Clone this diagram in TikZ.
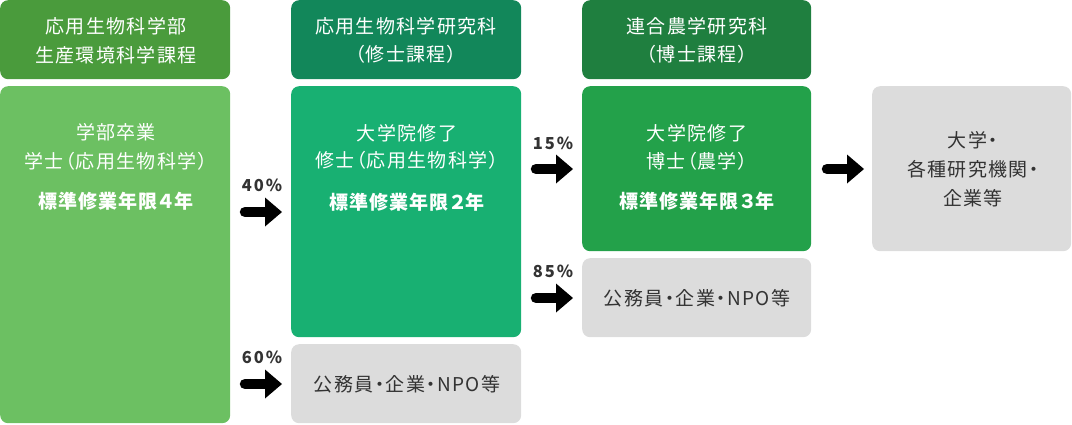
\documentclass[tikz,border=0pt]{standalone}
\usepackage{fontspec}
\setmainfont{Noto Sans CJK JP}[RawFeature=+palt, LetterSpace=7]
\usetikzlibrary{arrows.meta}
\definecolor{hdA}{HTML}{4A9B3C}
\definecolor{bdA}{HTML}{6CC062}
\definecolor{hdB}{HTML}{12875A}
\definecolor{bdB}{HTML}{18B072}
\definecolor{hdC}{HTML}{1F7F3F}
\definecolor{bdC}{HTML}{23A14A}
\definecolor{gbox}{HTML}{DCDCDC}
\definecolor{gtxt}{HTML}{333333}
\tikzset{
  box/.style={rectangle, rounded corners=8pt, draw=none, inner sep=0pt, anchor=north west},
  wt/.style={text=white, font=\fontsize{19}{28}\selectfont, anchor=base, inner sep=0pt},
  wtb/.style={wt, font=\fontsize{19}{28}\selectfont\bfseries\addfontfeatures{LetterSpace=6}},
  gt/.style={text=gtxt, font=\fontsize{19}{28}\selectfont, anchor=base, inner sep=0pt},
  pct/.style={text=gtxt, font=\fontsize{16.5}{20}\selectfont\bfseries\addfontfeatures{LetterSpace=12}, anchor=base, inner sep=0pt},
  fatarr/.style={line width=10.5pt, line cap=round, draw=black,
    -{Triangle[length=17pt 0 0, width=29pt 0 0, line width=0pt]}},
}
\begin{document}
\begin{tikzpicture}[x=1pt,y=-1pt]
\useasboundingbox (0,0) rectangle (1072,424);
% boxes
\node[box, fill=hdA, minimum width=230pt, minimum height=79pt] (h1) at (0,0) {};
\node[box, fill=bdA, minimum width=230pt, minimum height=337pt] (b1) at (0,86) {};
\node[box, fill=hdB, minimum width=230pt, minimum height=79pt] (h2) at (291,0) {};
\node[box, fill=bdB, minimum width=230pt, minimum height=251pt] (b2) at (291,86) {};
\node[box, fill=gbox, minimum width=230pt, minimum height=79pt] (g2) at (291,344) {};
\node[box, fill=hdC, minimum width=229pt, minimum height=79pt] (h3) at (582,0) {};
\node[box, fill=bdC, minimum width=229pt, minimum height=165pt] (b3) at (582,86) {};
\node[box, fill=gbox, minimum width=229pt, minimum height=79pt] (g3) at (582,258) {};
\node[box, fill=gbox, minimum width=199pt, minimum height=165pt] (g4) at (872,86) {};
% header texts
\node[wt] (h1a) at (116,33) {応用生物科学部};
\node[wt] (h1b) at (116,62) {生産環境科学課程};
\node[wt] (h2a) at (406,33) {応用生物科学研究科};
\node[wt] (h2b) at (406,61) {（修士課程）};
\node[wt] (h3a) at (697,33) {連合農学研究科};
\node[wt] (h3b) at (697,61) {（博士課程）};
% body texts
\node[wt] (b1a) at (116,139) {学部卒業};
\node[wt] (b1b) at (116,168) {学士（応用生物科学）};
\node[wtb] (b1c) at (116,208) {標準修業年限４年};
\node[wt] (b2a) at (407,140) {大学院修了};
\node[wt] (b2b) at (407,167) {修士（応用生物科学）};
\node[wtb] (b2c) at (407,209) {標準修業年限２年};
\node[wt] (b3a) at (697,140) {大学院修了};
\node[wt] (b3b) at (697,168) {博士（農学）};
\node[wtb] (b3c) at (697,208) {標準修業年限３年};
\node[gt] (g4a) at (973,147) {大学・};
\node[gt] (g4b) at (973,176) {各種研究機関・};
\node[gt] (g4c) at (973,205) {企業等};
\node[gt] (g2a) at (407,391) {公務員・企業・NPO等};
\node[gt] (g3a) at (697,305) {公務員・企業・NPO等};
% percentages
\node[pct] (p40) at (262,191) {40\%};
\node[pct] (p60) at (262,363) {60\%};
\node[pct] (p15) at (553,149) {15\%};
\node[pct] (p85) at (553,277) {85\%};
% arrows
\coordinate (s40) at (245,212); \coordinate (e40) at (282,212);
\coordinate (s60) at (245,384); \coordinate (e60) at (282,384);
\coordinate (s15) at (536,169); \coordinate (e15) at (573,169);
\coordinate (s85) at (536,298); \coordinate (e85) at (573,298);
\coordinate (sF) at (827,169); \coordinate (eF) at (864,169);
\draw[fatarr] (s40) -- (e40);
\draw[fatarr] (s60) -- (e60);
\draw[fatarr] (s15) -- (e15);
\draw[fatarr] (s85) -- (e85);
\draw[fatarr] (sF) -- (eF);
\end{tikzpicture}
\end{document}
